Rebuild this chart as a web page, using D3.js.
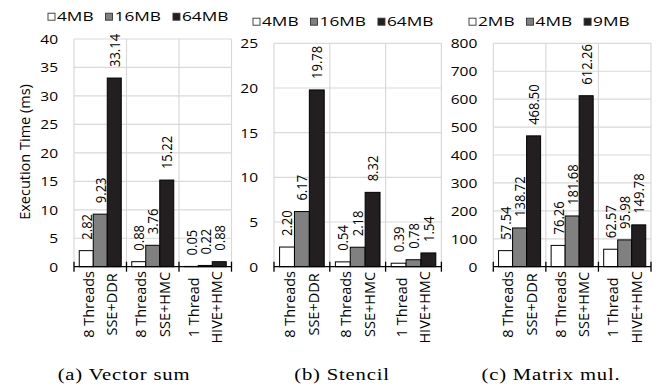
<!DOCTYPE html>
<html><head><meta charset="utf-8">
<script src="https://cdn.jsdelivr.net/npm/d3@7"></script>
<style>html,body{margin:0;padding:0;background:#fff;}svg{display:block;}</style>
</head><body>
<svg id="chart" width="657" height="386"></svg>
<script>
// ---- data ----
const categories = [["8 Threads","SSE+DDR"],["8 Threads","SSE+HMC"],["1 Thread","HIVE+HMC"]];
const vecLegend = ["4MB","16MB","64MB"];
const vec4MB  = [2.82, 0.88, 0.05];
const vec16MB = [9.23, 3.76, 0.22];
const vec64MB = [33.14, 15.22, 0.88];
const stLegend = ["4MB","16MB","64MB"];
const st4MB  = [2.20, 0.54, 0.39];
const st16MB = [6.17, 2.18, 0.78];
const st64MB = [19.78, 8.32, 1.54];
const mmLegend = ["2MB","4MB","9MB"];
const mm2MB = [57.54, 76.26, 62.57];
const mm4MB = [138.72, 181.68, 95.98];
const mm9MB = [468.50, 612.26, 149.78];
const vecTicks = [0,5,10,15,20,25,30,35,40];
const stTicks  = [0,5,10,15,20,25];
const mmTicks  = [0,100,200,300,400,500,600,700,800];
const captions = ["(a) Vector sum","(b) Stencil","(c) Matrix mul."];
const yTitle = "Execution Time (ms)";

// ---- styles ----
const colors = ["#ffffff","#808080","#231f20"];
const gridColor = "#d9d9d9";
const FONT = "'Open Sans', sans-serif";
const SERIF = "'Liberation Serif','Times New Roman',serif";

const svg = d3.select("#chart");
const yZero = 266.7;

const panels = [
  {x0:74, x1:231.5, yTop:39, ticks:vecTicks, series:[vec4MB,vec16MB,vec64MB], legend:vecLegend, legX:48, legY:16.7, cap:captions[0], capX:124},
  {x0:274, x1:441.4, yTop:43.3, ticks:stTicks, series:[st4MB,st16MB,st64MB], legend:stLegend, legX:253, legY:21.7, cap:captions[1], capX:342},
  {x0:493.3, x1:651, yTop:43.3, ticks:mmTicks, series:[mm2MB,mm4MB,mm9MB], legend:mmLegend, legX:469, legY:21.7, cap:captions[2], capX:551}
];

function hText(g, x, y, str, size, sx, anchor, family) {
  const t = g.append("g").attr("transform", `translate(${x},${y}) scale(${sx},1)`)
    .append("text").attr("x",0).attr("y",0)
    .attr("text-anchor", anchor)
    .attr("font-family", family || FONT)
    .attr("font-size", size).attr("fill", "#000").text(str);
  return t;
}

panels.forEach((p) => {
  const g = svg.append("g");
  const yMax = p.ticks[p.ticks.length-1];
  const y = d3.scaleLinear().domain([0,yMax]).range([yZero, p.yTop]);
  const x = d3.scaleBand().domain(d3.range(categories.length)).range([p.x0, p.x1]).padding(0);
  const xi = d3.scaleBand().domain(d3.range(p.series.length)).range([0, x.bandwidth()]).paddingInner(0).paddingOuter(0.375);

  // horizontal grid
  g.append("g").selectAll("line").data(p.ticks.filter(d=>d>0)).join("line")
    .attr("x1", p.x0).attr("x2", p.x1)
    .attr("y1", d=>y(d)).attr("y2", d=>y(d))
    .attr("stroke", gridColor).attr("stroke-width", 1.2);
  // vertical grid (category boundaries)
  const bounds = d3.range(categories.length+1).map(i => i<categories.length ? x(i) : p.x1);
  g.append("g").selectAll("line").data(bounds).join("line")
    .attr("x1", d=>d).attr("x2", d=>d)
    .attr("y1", p.yTop).attr("y2", yZero)
    .attr("stroke", gridColor).attr("stroke-width", 1.2);

  // y tick labels
  p.ticks.forEach(t => {
    hText(g, p.x0-16, y(t), String(t), 13.5, 1.15, "end").attr("dy","0.36em");
  });

  // bars
  p.series.forEach((vals, si) => {
    g.append("g").selectAll("rect").data(vals).join("rect")
      .attr("x", (d,i)=> x(i) + xi(si))
      .attr("y", d=> y(d))
      .attr("width", xi.bandwidth())
      .attr("height", d=> yZero - y(d))
      .attr("fill", colors[si])
      .attr("stroke", "#000").attr("stroke-width", 1);
    // value labels
    vals.forEach((v,i) => {
      const cx = x(i) + xi(si) + xi.bandwidth()/2;
      g.append("g").attr("transform", `translate(${cx},${y(v)-11}) scale(1.15,1) rotate(-90)`)
        .append("text").attr("text-anchor","start").attr("dy","0.36em")
        .attr("font-family", FONT).attr("font-size", 13).text(d3.format(".2f")(v));
    });
  });

  // x axis line and ticks
  g.append("line").attr("x1", p.x0).attr("x2", p.x1).attr("y1", yZero).attr("y2", yZero)
    .attr("stroke", "#000").attr("stroke-width", 1.3);
  g.append("g").selectAll("line").data(bounds).join("line")
    .attr("x1", d=>d).attr("x2", d=>d).attr("y1", yZero-5).attr("y2", yZero+5)
    .attr("stroke", "#000").attr("stroke-width", 1.3);

  // category labels (rotated, two lines, centred block)
  categories.forEach((lines, i) => {
    const cx = x(i) + x.bandwidth()/2;
    const nodes = lines.map((ln, li) => {
      const gg = g.append("g");
      const t = gg.append("text").attr("text-anchor","middle").attr("dy","0.36em")
        .attr("font-family", FONT).attr("font-size", 14.5).text(ln);
      return {gg, t, li};
    });
    const maxLen = d3.max(nodes, n => n.t.node().getComputedTextLength());
    nodes.forEach(n => {
      const lx = cx + (n.li - 0.5) * 23.4;
      n.gg.attr("transform", `translate(${lx},${271 + maxLen/2}) rotate(-90)`);
    });
  });

  // legend
  let lx = p.legX;
  p.legend.forEach((lab, i) => {
    g.append("rect").attr("x", lx).attr("y", p.legY-3.5).attr("width", 7).attr("height", 7)
      .attr("fill", colors[i]).attr("stroke", "#333").attr("stroke-width", 0.9);
    const t = hText(g, lx+9, p.legY, lab, 12.8, 1.35, "start").attr("dy","0.36em");
    const w = t.node().getComputedTextLength() * 1.35;
    lx = lx + 9 + w + 12;
  });

  // caption
  hText(g, p.capX, 380, p.cap, 17.5, 1.18, "middle", SERIF).attr("letter-spacing", "0.7px");
});

// y axis title
svg.append("text").attr("transform", "translate(25,152) rotate(-90)")
  .attr("text-anchor","middle").attr("dy","0.36em")
  .attr("font-family", FONT).attr("font-size", 14.5).text(yTitle);
</script>
</body></html>
